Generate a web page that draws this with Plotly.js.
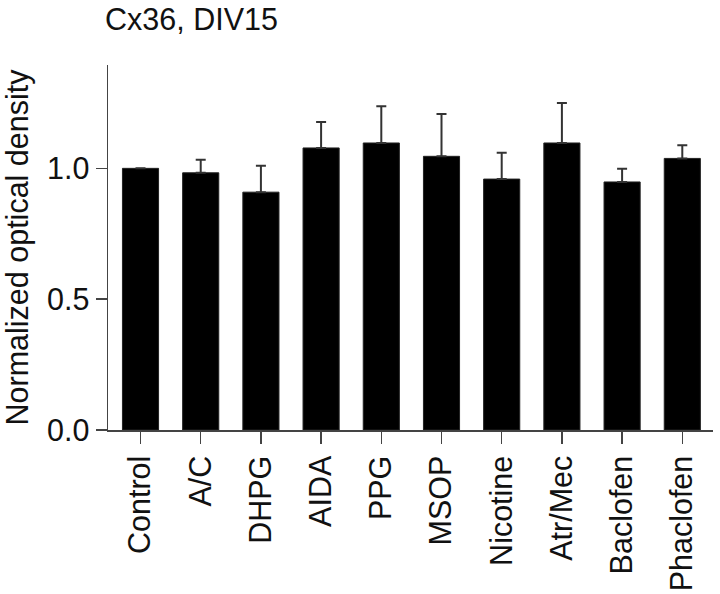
<!DOCTYPE html>
<html>
<head>
<meta charset="utf-8">
<script src="https://cdn.plot.ly/plotly-3.0.1.min.js"></script>
<style>html,body{margin:0;padding:0;background:#fff;}#chart{width:720px;height:594px;}</style>
</head>
<body>
<div id="chart"></div>
<script>
var categories = ["Control","A/C","DHPG","AIDA","PPG","MSOP","Nicotine","Atr/Mec","Baclofen","Phaclofen"];
var means = [1.0, 0.983, 0.909, 1.078, 1.097, 1.046, 0.959, 1.097, 0.948, 1.038];
var errUpper = [null, 0.05, 0.101, 0.099, 0.14, 0.162, 0.101, 0.153, 0.05, 0.05];
var yTicks = [0, 0.5, 1.0];
var yTickLabels = ["0.0", "0.5", "1.0"];

var font = "Liberation Sans, Arial, Helvetica, sans-serif";
var fs = 30.5;

var trace = {
  type: "bar",
  x: categories,
  y: means,
  width: 0.6,
  marker: {color: "#000", line: {color: "#222", width: 1}},
  error_y: {type: "data", symmetric: false, array: errUpper, arrayminus: errUpper.map(function(){return 0;}),
            color: "#333", thickness: 2, width: 5}
};

var layout = {
  width: 720, height: 594,
  margin: {l: 108, r: 7, t: 65, b: 164},
  paper_bgcolor: "#fff", plot_bgcolor: "#fff",
  showlegend: false,
  font: {family: font, size: fs, color: "#111"},
  title: {text: "Cx36, DIV15", font: {family: font, size: fs, color: "#111"},
          xref: "container", x: 105/720, xanchor: "left",
          yref: "container", y: 1 - 19/594, yanchor: "middle"},
  xaxis: {
    type: "category",
    range: [-0.54, 9.51],
    showline: true, linecolor: "#444", linewidth: 1.5,
    ticks: "outside", ticklen: 12, tickwidth: 1.5, tickcolor: "#444",
    tickangle: -90,
    tickfont: {family: font, size: fs, color: "#111"},
    showgrid: false, zeroline: false,
    fixedrange: true
  },
  yaxis: {
    range: [0, 1.395],
    tickvals: yTicks, ticktext: yTickLabels,
    showline: true, linecolor: "#444", linewidth: 1.5,
    ticks: "outside", ticklen: 11, tickwidth: 1.5, tickcolor: "#444",
    tickfont: {family: font, size: fs, color: "#111"},
    showgrid: false, zeroline: false,
    title: {text: "Normalized optical density", font: {family: font, size: fs, color: "#111"}, standoff: 12},
    fixedrange: true
  }
};

Plotly.newPlot("chart", [trace], layout, {staticPlot: true, displayModeBar: false});
</script>
</body>
</html>
